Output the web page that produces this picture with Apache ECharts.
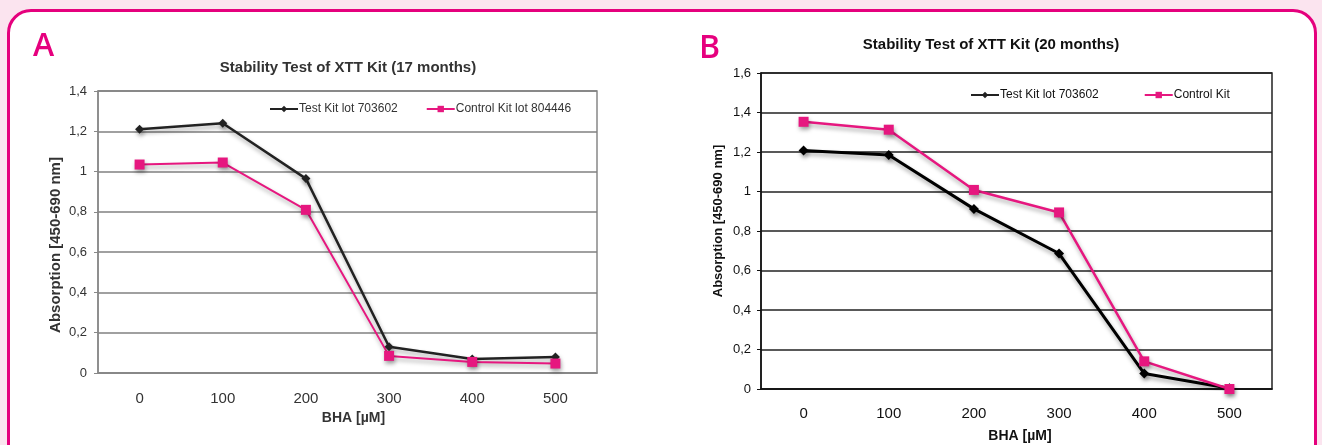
<!DOCTYPE html>
<html>
<head>
<meta charset="utf-8">
<script src="https://cdn.jsdelivr.net/npm/echarts@6/dist/echarts.min.js"></script>
<style>
  html, body { margin: 0; padding: 0; }
  body { width: 1322px; height: 445px; background: #fbe4ef; position: relative; overflow: hidden; }
  #panel {
    position: absolute; left: 7px; top: 9px; width: 1310px; height: 500px;
    box-sizing: border-box; border: 3px solid #e5007d; border-radius: 24px; background: #fff;
  }
  #chart { position: absolute; left: 0; top: 0; width: 1322px; height: 445px; }
</style>
</head>
<body>
<div id="panel"></div>
<div id="chart"></div>
<script>
// data
const categories = ['0', '100', '200', '300', '400', '500'];
const testA = [1.21, 1.24, 0.965, 0.13, 0.07, 0.08];
const controlA = [1.035, 1.045, 0.81, 0.085, 0.055, 0.047];
const testB = [1.207, 1.185, 0.912, 0.686, 0.078, 0.004];
const controlB = [1.353, 1.313, 1.008, 0.894, 0.14, 0];
const legendA = ['Test Kit lot 703602', 'Control Kit lot 804446'];
const legendB = ['Test Kit lot 703602', 'Control Kit'];

const PINK = '#e6177f';
const FONT = '"Liberation Sans", Arial, sans-serif';
const comma = v => String(+v.toFixed(1)).replace('.', ',');

var chart = echarts.init(document.getElementById('chart'));

function lineSeries(name, data, idx, color, symbol, size, width) {
  return {
    name: name, type: 'line', data: data,
    xAxisIndex: idx, yAxisIndex: idx,
    symbol: symbol, symbolSize: size,
    lineStyle: { color: color, width: width, shadowColor: 'rgba(0,0,0,0.35)', shadowBlur: 4, shadowOffsetX: 1, shadowOffsetY: 3 },
    itemStyle: { color: color, shadowColor: 'rgba(0,0,0,0.35)', shadowBlur: 4, shadowOffsetX: 1, shadowOffsetY: 3 },
    animation: false
  };
}

var letterStyle = { color: '#e6007e', fontSize: 32, fontWeight: 600, fontFamily: '"Open Sans", sans-serif' };

var option = {
  textStyle: { fontFamily: FONT },
  title: [
    { text: 'A', left: 28, top: 26, textStyle: letterStyle },
    { text: 'B', left: 694, top: 28, textStyle: letterStyle },
    { text: 'Stability Test of XTT Kit (17 months)', left: 343, top: 55, textAlign: 'center', textStyle: { color: '#333', fontSize: 15, fontWeight: 'bold' } },
    { text: 'Stability Test of XTT Kit (20 months)', left: 986, top: 32, textAlign: 'center', textStyle: { color: '#111', fontSize: 15, fontWeight: 'bold' } }
  ],
  legend: [
    { data: legendA, left: 269, top: 103, padding: 0, itemWidth: 28, itemHeight: 8, itemGap: 28, textStyle: { fontSize: 12, color: '#333', padding: [0, 0, 0, -4] } },
    { data: legendB, left: 970, top: 89, padding: 0, itemWidth: 28, itemHeight: 8, itemGap: 45, textStyle: { fontSize: 12, color: '#111', padding: [0, 0, 0, -4] } }
  ],
  grid: [
    { left: 98, right: 725, top: 91, bottom: 72, outerBoundsMode: 'none', show: true, borderColor: '#888', borderWidth: 1.5, backgroundColor: 'transparent' },
    { left: 761, right: 50, top: 73, bottom: 56, outerBoundsMode: 'none', show: true, borderColor: '#222', borderWidth: 1.5, backgroundColor: 'transparent' }
  ],
  xAxis: [
    { type: 'category', gridIndex: 0, data: categories, boundaryGap: true,
      name: 'BHA [µM]', nameLocation: 'middle', nameGap: 34,
      nameTextStyle: { fontSize: 14, fontWeight: 'bold', color: '#333', padding: [0, 0, 0, 12] },
      axisLine: { lineStyle: { color: '#888', width: 1.5 } },
      axisTick: { length: 5, lineStyle: { color: '#888', width: 1.5 } },
      axisLabel: { fontSize: 15, color: '#333', margin: 18 } },
    { type: 'category', gridIndex: 1, data: categories, boundaryGap: true,
      name: 'BHA [µM]', nameLocation: 'middle', nameGap: 40,
      nameTextStyle: { fontSize: 14, fontWeight: 'bold', color: '#111', padding: [0, 0, 0, 7] },
      axisLine: { lineStyle: { color: '#111', width: 1.5 } },
      axisTick: { length: 5, lineStyle: { color: '#111', width: 1.5 } },
      axisLabel: { fontSize: 15, color: '#111', margin: 17 } }
  ],
  yAxis: [
    { type: 'value', gridIndex: 0, min: 0, max: 1.4, interval: 0.2,
      name: 'Absorption [450-690 nm]', nameLocation: 'middle', nameGap: 35,
      nameTextStyle: { fontSize: 15, fontWeight: 'bold', color: '#333', padding: [0, 26, 0, 0] },
      axisLine: { show: true, lineStyle: { color: '#888', width: 1.5 } },
      axisTick: { show: true, length: 4, lineStyle: { color: '#888' } },
      axisLabel: { fontSize: 13, color: '#333', margin: 11, formatter: comma },
      splitLine: { lineStyle: { color: '#808080', width: 1.5 } } },
    { type: 'value', gridIndex: 1, min: 0, max: 1.6, interval: 0.2,
      name: 'Absorption [450-690 nm]', nameLocation: 'middle', nameGap: 36,
      nameTextStyle: { fontSize: 13, fontWeight: 'bold', color: '#111', padding: [0, 0, 0, 20] },
      axisLine: { show: true, lineStyle: { color: '#111', width: 1.5 } },
      axisTick: { show: true, length: 4, lineStyle: { color: '#111' } },
      axisLabel: { fontSize: 13, color: '#111', margin: 10, formatter: comma },
      splitLine: { lineStyle: { color: '#222', width: 1.5 } } }
  ],
  series: [
    lineSeries(legendA[0], testA, 0, '#222', 'diamond', 9, 2.5),
    lineSeries(legendA[1], controlA, 0, PINK, 'rect', 10, 2),
    lineSeries(legendB[0], testB, 1, '#000', 'diamond', 10, 3),
    lineSeries(legendB[1], controlB, 1, PINK, 'rect', 10, 2.5)
  ]
};
chart.setOption(option);
</script>
</body>
</html>
